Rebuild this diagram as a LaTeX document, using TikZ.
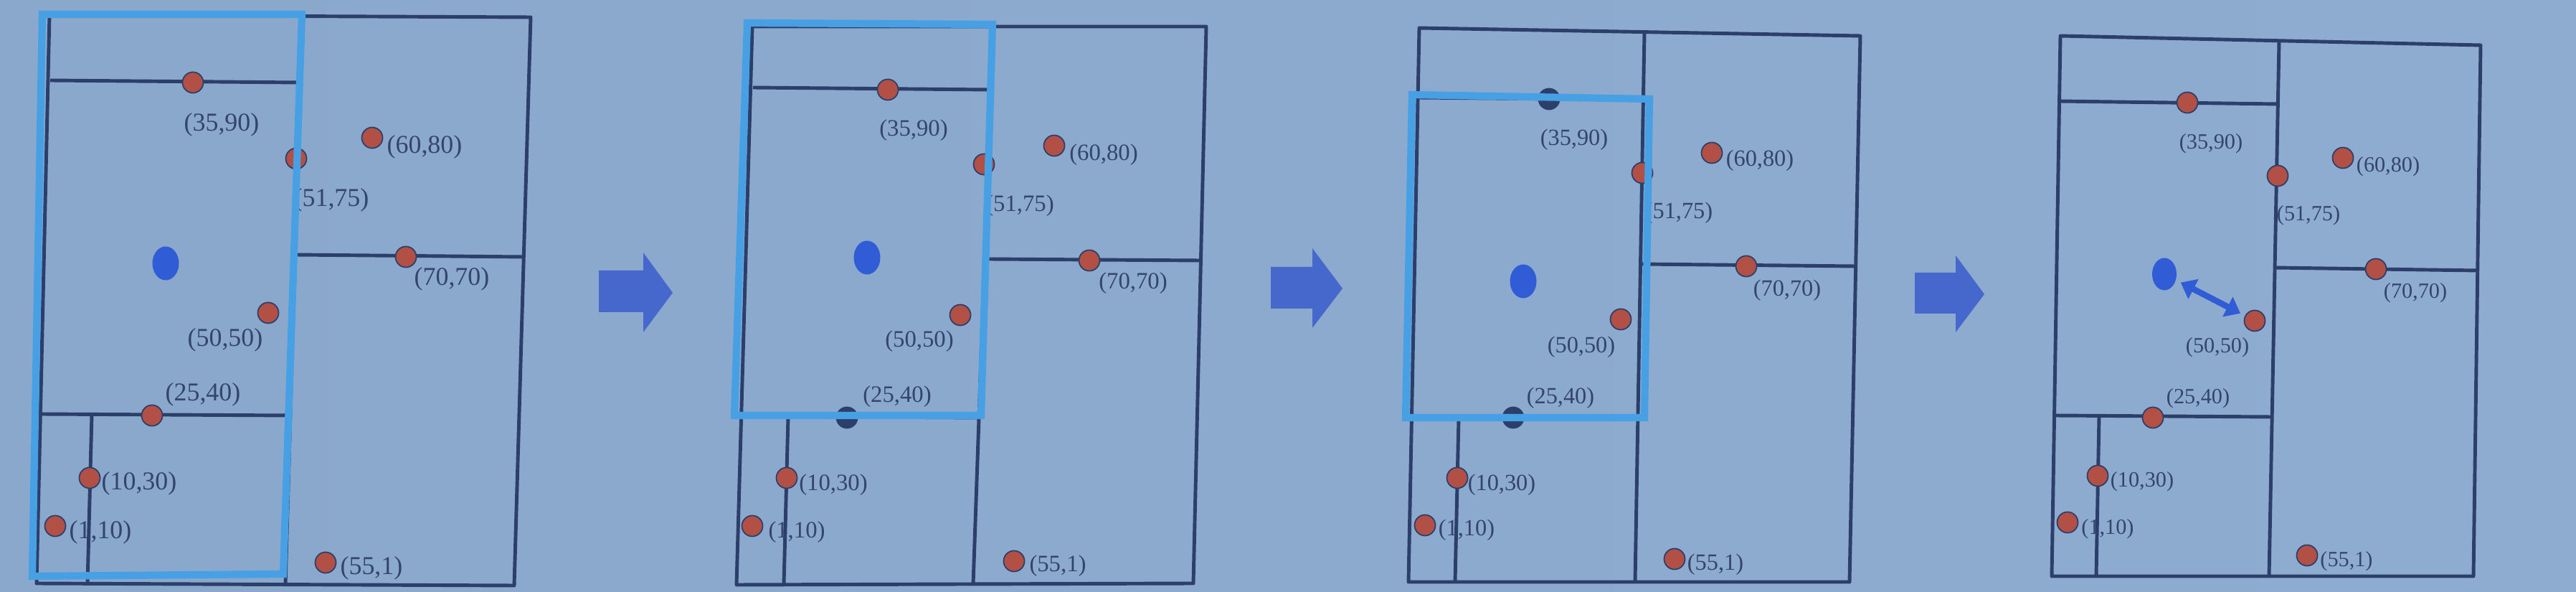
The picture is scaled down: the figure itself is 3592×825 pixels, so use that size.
\documentclass[tikz,border=0pt]{standalone}
\usepackage{fontspec}
\setmainfont{Liberation Serif}
\usetikzlibrary{shapes.geometric,arrows.meta}
\definecolor{kdline}{RGB}{44,62,106}
\definecolor{hiblue}{RGB}{72,160,228}
\definecolor{dotred}{RGB}{178,80,70}
\definecolor{qblue}{RGB}{48,92,214}
\definecolor{arrblue}{RGB}{70,104,204}
\definecolor{lbltext}{RGB}{52,68,108}
\definecolor{bgleft}{RGB}{138,168,204}
\definecolor{bgmid}{RGB}{158,185,217}
\definecolor{bgright}{RGB}{142,172,207}
\begin{document}
\begin{tikzpicture}[x=0.01cm, y=-0.01cm,
    kdpoint/.style={circle, draw=kdline, fill=dotred, line width=0.5pt, inner sep=0pt, minimum size=0.29cm},
    hitpoint/.style={kdpoint, fill=kdline},
    qpoint/.style={ellipse, fill=qblue, inner sep=0pt, minimum width=0.37cm, minimum height=0.47cm},
    lbl/.style={text=lbltext, inner sep=0pt},
    cellline/.style={draw=kdline, line width=1.4pt, line join=round},
    hilite/.style={draw=hiblue, line width=2.9pt},
    blockarrow/.style={fill=arrblue},
    nearest/.style={draw=qblue, line width=2.4pt, {Triangle[length=0.2cm, width=0.3cm]}-{Triangle[length=0.2cm, width=0.3cm]}, shorten <=2pt, shorten >=2pt}]
    \useasboundingbox (0,0) rectangle (3592,825);
    \shade [left color=bgleft, middle color=bgmid, right color=bgright] (0,0) rectangle (3592,825);

    \fill [blockarrow] (835,377) -- (897,377) -- (897,352) -- (938,408) -- (897,463) -- (897,435) -- (835,435) -- cycle;
    \fill [blockarrow] (1772,372) -- (1830,372) -- (1830,346) -- (1872,402) -- (1830,457) -- (1830,430) -- (1772,430) -- cycle;
    \fill [blockarrow] (2670,380) -- (2727,380) -- (2727,356) -- (2767,410) -- (2727,463) -- (2727,437) -- (2670,437) -- cycle;

    \begin{scope}[font=\fontsize{10.2}{12}\selectfont]
    \draw [cellline] (69,21) -- (740,24) -- (717,816) -- (51,813) -- cycle;
    \draw [cellline] (421,22) -- (398,815);
    \draw [cellline] (70,112) -- (416,115);
    \draw [cellline] (412,355) -- (730,358);
    \draw [cellline] (57,577) -- (404,579);
    \draw [cellline] (128,578) -- (122,814);

    \node [kdpoint] (a3590) at (269,115) {};
    \node [kdpoint] (a5175) at (413,221) {};
    \node [kdpoint] (a6080) at (519,192) {};
    \node [kdpoint] (a7070) at (566,358) {};
    \node [kdpoint] (a5050) at (374,436) {};
    \node [kdpoint] (a2540) at (212,579) {};
    \node [kdpoint] (a1030) at (125,666) {};
    \node [kdpoint] (a0110) at (77,733) {};
    \node [kdpoint] (a5501) at (454,784) {};
    \node [qpoint] (aq) at (231,367) {};

    \node [lbl] (la3590) at (309,174) {(35,90)};
    \node [lbl] (la5175) at (462,279) {(51,75)};
    \node [lbl] (la6080) at (592,205) {(60,80)};
    \node [lbl] (la7070) at (630,389) {(70,70)};
    \node [lbl] (la5050) at (314,474) {(50,50)};
    \node [lbl] (la2540) at (283,550) {(25,40)};
    \node [lbl] (la1030) at (194,674) {(10,30)};
    \node [lbl] (la0110) at (140,742) {(1,10)};
    \node [lbl] (la5501) at (518,792) {(55,1)};

    \draw [hilite] (59,20) -- (421,20) -- (395,800) -- (45,803) -- cycle;
    \end{scope}

    \begin{scope}[font=\fontsize{9.3}{11}\selectfont]
    \draw [cellline] (1049,37) -- (1682,37) -- (1664,813) -- (1027,815) -- cycle;
    \draw [cellline] (1384,37) -- (1357,814);
    \draw [cellline] (1050,122) -- (1378,125);
    \draw [cellline] (1378,361) -- (1673,363);
    \draw [cellline] (1034,580) -- (1365,582);
    \draw [cellline] (1099,581) -- (1093,814);

    \node [kdpoint] (b3590) at (1238,125) {};
    \node [kdpoint] (b5175) at (1372,229) {};
    \node [kdpoint] (b6080) at (1470,203) {};
    \node [kdpoint] (b7070) at (1519,363) {};
    \node [kdpoint] (b5050) at (1339,439) {};
    \node [hitpoint] (b2540) at (1181,582) {};
    \node [kdpoint] (b1030) at (1097,666) {};
    \node [kdpoint] (b0110) at (1049,733) {};
    \node [kdpoint] (b5501) at (1414,782) {};
    \node [qpoint] (bq) at (1209,359) {};

    \node [lbl] (lb3590) at (1274,182) {(35,90)};
    \node [lbl] (lb5175) at (1422,287) {(51,75)};
    \node [lbl] (lb6080) at (1539,216) {(60,80)};
    \node [lbl] (lb7070) at (1580,395) {(70,70)};
    \node [lbl] (lb5050) at (1282,476) {(50,50)};
    \node [lbl] (lb2540) at (1251,553) {(25,40)};
    \node [lbl] (lb1030) at (1162,676) {(10,30)};
    \node [lbl] (lb0110) at (1111,742) {(1,10)};
    \node [lbl] (lb5501) at (1475,789) {(55,1)};

    \draw [hilite] (1042,32) -- (1384,34) -- (1368,579) -- (1024,579) -- cycle;
    \end{scope}

    \begin{scope}[font=\fontsize{9.2}{11}\selectfont]
    \draw [cellline] (1979,39) -- (2594,50) -- (2579,811) -- (1964,811) -- cycle;
    \draw [cellline] (2293,45) -- (2280,811);
    \draw [cellline] (1977,136) -- (2291,139);
    \draw [cellline] (2287,368) -- (2587,371);
    \draw [cellline] (1968,582) -- (2287,583);
    \draw [cellline] (2034,583) -- (2029,811);

    \node [hitpoint] (c3590) at (2160,138) {};
    \node [kdpoint] (c5175) at (2290,241) {};
    \node [kdpoint] (c6080) at (2387,213) {};
    \node [kdpoint] (c7070) at (2435,371) {};
    \node [kdpoint] (c5050) at (2260,445) {};
    \node [hitpoint] (c2540) at (2110,582) {};
    \node [kdpoint] (c1030) at (2032,666) {};
    \node [kdpoint] (c0110) at (1987,732) {};
    \node [kdpoint] (c5501) at (2335,779) {};
    \node [qpoint] (cq) at (2124,392) {};

    \node [lbl] (lc3590) at (2195,195) {(35,90)};
    \node [lbl] (lc5175) at (2341,297) {(51,75)};
    \node [lbl] (lc6080) at (2454,224) {(60,80)};
    \node [lbl] (lc7070) at (2492,405) {(70,70)};
    \node [lbl] (lc5050) at (2205,484) {(50,50)};
    \node [lbl] (lc2540) at (2176,555) {(25,40)};
    \node [lbl] (lc1030) at (2094,676) {(10,30)};
    \node [lbl] (lc0110) at (2045,739) {(1,10)};
    \node [lbl] (lc5501) at (2392,787) {(55,1)};

    \draw [hilite] (1969,132) -- (2300,138) -- (2293,582) -- (1960,582) -- cycle;
    \end{scope}

    \begin{scope}[font=\fontsize{8.6}{10}\selectfont]
    \draw [cellline] (2873,50) -- (3459,63) -- (3449,803) -- (2861,803) -- cycle;
    \draw [cellline] (3178,57) -- (3164,803);
    \draw [cellline] (2872,141) -- (3176,145);
    \draw [cellline] (3172,373) -- (3455,377);
    \draw [cellline] (2865,579) -- (3168,581);
    \draw [cellline] (2927,580) -- (2923,803);

    \node [kdpoint] (d3590) at (3050,143) {};
    \node [kdpoint] (d5175) at (3176,245) {};
    \node [kdpoint] (d6080) at (3267,220) {};
    \node [kdpoint] (d7070) at (3313,375) {};
    \node [kdpoint] (d5050) at (3144,447) {};
    \node [kdpoint] (d2540) at (3002,582) {};
    \node [kdpoint] (d1030) at (2925,663) {};
    \node [kdpoint] (d0110) at (2883,728) {};
    \node [kdpoint] (d5501) at (3217,774) {};
    \node [qpoint, minimum width=0.34cm, minimum height=0.45cm] (dq) at (3018,382) {};

    \node [lbl] (ld3590) at (3083,200) {(35,90)};
    \node [lbl] (ld5175) at (3219,300) {(51,75)};
    \node [lbl] (ld6080) at (3330,232) {(60,80)};
    \node [lbl] (ld7070) at (3368,408) {(70,70)};
    \node [lbl] (ld5050) at (3092,484) {(50,50)};
    \node [lbl] (ld2540) at (3065,555) {(25,40)};
    \node [lbl] (ld1030) at (2987,671) {(10,30)};
    \node [lbl] (ld0110) at (2939,737) {(1,10)};
    \node [lbl] (ld5501) at (3272,782) {(55,1)};

    \draw [nearest] (dq) -- (d5050);
    \end{scope}
\end{tikzpicture}
\end{document}
